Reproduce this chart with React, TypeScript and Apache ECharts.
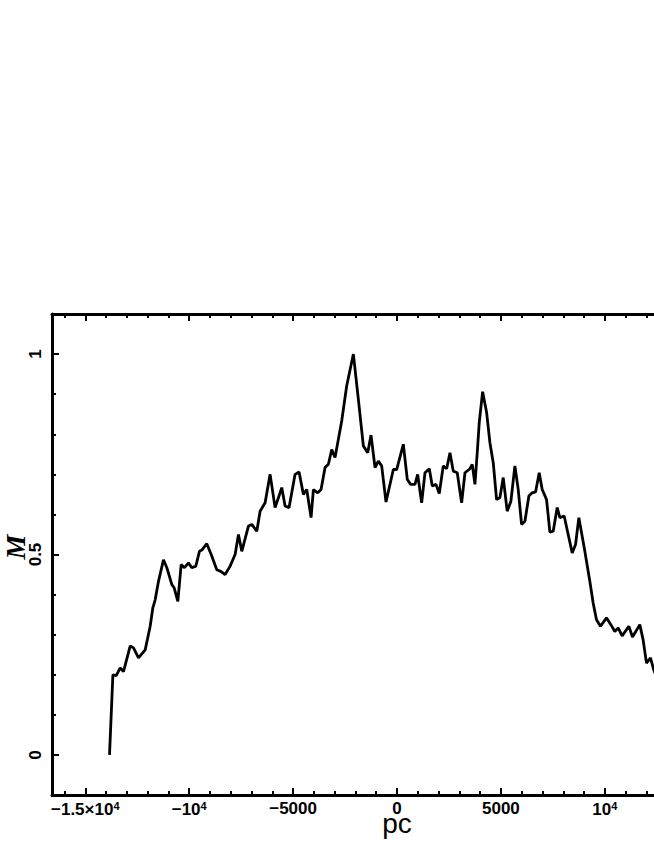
import React, { useEffect, useRef } from "react";
import * as echarts from "echarts";

// distance (pc) and M values
const pcValues = [
  -13833, -13670, -13510, -13318, -13160, -12837, -12678, -12438, -12116, -11876,
  -11748, -11635, -11476, -11236, -11073, -10833, -10722, -10545, -10385, -10226,
  -10034, -9873, -9681, -9505, -9392, -9152, -8912, -8672, -8480, -8270,
  -8030, -7789, -7629, -7468, -7148, -6987, -6746, -6587, -6346, -6106,
  -5866, -5625, -5545, -5385, -5193, -4904, -4712, -4504, -4343, -4135,
  -4023, -3813, -3654, -3462, -3301, -3141, -2981, -2660, -2420, -2099,
  -1859, -1619, -1410, -1250, -1058, -898, -737, -529, -176, -16,
  304, 497, 657, 865, 994, 1186, 1346, 1554, 1698, 1875,
  2034, 2226, 2389, 2548, 2707, 2899, 3110, 3270, 3510, 3621,
  3750, 3861, 3957, 4120, 4312, 4471, 4631, 4792, 4952, 5111,
  5303, 5481, 5673, 5833, 5994, 6154, 6346, 6506, 6668, 6843,
  6987, 7196, 7356, 7516, 7708, 7837, 8044, 8237, 8429, 8591,
  8750, 9038, 9279, 9438, 9599, 9792, 10080, 10289, 10481, 10641,
  10833, 11155, 11332, 11683, 11843, 12004, 12196, 12356, 12520,
];
const mValues = [
  0.0, 0.2, 0.198, 0.217, 0.208, 0.272, 0.267, 0.242, 0.262, 0.321,
  0.367, 0.387, 0.433, 0.487, 0.467, 0.425, 0.417, 0.383, 0.475, 0.467,
  0.479, 0.467, 0.471, 0.508, 0.511, 0.527, 0.496, 0.462, 0.458, 0.45,
  0.471, 0.5, 0.55, 0.508, 0.571, 0.575, 0.558, 0.608, 0.629, 0.7,
  0.617, 0.654, 0.667, 0.621, 0.617, 0.7, 0.706, 0.65, 0.662, 0.592,
  0.662, 0.654, 0.662, 0.717, 0.725, 0.762, 0.742, 0.833, 0.921, 1.0,
  0.887, 0.771, 0.754, 0.798, 0.717, 0.733, 0.721, 0.631, 0.712, 0.712,
  0.775, 0.687, 0.675, 0.675, 0.7, 0.629, 0.704, 0.714, 0.671, 0.675,
  0.652, 0.721, 0.714, 0.754, 0.708, 0.704, 0.629, 0.704, 0.714, 0.725,
  0.675, 0.754, 0.829, 0.906, 0.854, 0.779, 0.729, 0.637, 0.642, 0.692,
  0.608, 0.633, 0.721, 0.662, 0.575, 0.583, 0.646, 0.654, 0.656, 0.704,
  0.662, 0.637, 0.556, 0.558, 0.617, 0.592, 0.596, 0.55, 0.504, 0.525,
  0.592, 0.508, 0.433, 0.379, 0.337, 0.321, 0.342, 0.325, 0.308, 0.317,
  0.297, 0.321, 0.294, 0.325, 0.287, 0.229, 0.242, 0.212, 0.19,
];

const xMajorTicks = [-15000, -10000, -5000, 0, 5000, 10000, 15000];
const xMinorTicks = [
  -16000, -15000, -14000, -13000, -12000, -11000, -10000, -9000, -8000, -7000, -6000,
  -5000, -4000, -3000, -2000, -1000, 0, 1000, 2000, 3000, 4000, 5000, 6000, 7000,
  8000, 9000, 10000, 11000, 12000, 13000, 14000, 15000, 16000,
];
const xTickLabels = ["−1.5×10{s|4}", "−10{s|4}", "−5000", "0", "5000", "10{s|4}"];
const xLabelValues = [-15000, -10000, -5000, 0, 5000, 10000];
const yMajorTicks = [0, 0.5, 1];
const yMinorTicks = [0, 0.1, 0.2, 0.3, 0.4, 0.5, 0.6, 0.7, 0.8, 0.9, 1.0];
const yTickLabels = ["0", "0.5", "1"];
const xAxisTitle = "pc";
const yAxisTitle = "M";

const X_MIN = -16600;
const X_MAX = 16600;
const Y_MIN = -0.1;
const Y_MAX = 1.1;

export default function App() {
  const ref = useRef<HTMLDivElement>(null);

  useEffect(() => {
    if (!ref.current) return;
    const chart = echarts.init(ref.current, null, { renderer: "svg" });
    const lineStyle = { color: "#000", width: 3 };
    const tickStyle = { color: "#000", width: 2 };
    const labelFont = {
      fontFamily: "Liberation Sans",
      fontWeight: "bold" as const,
      fontSize: 17,
      color: "#000",
    };

    const xBase = (position: "top" | "bottom") => ({
      type: "value" as const,
      position,
      min: X_MIN,
      max: X_MAX,
      splitLine: { show: false },
    });
    const yBase = () => ({
      type: "value" as const,
      position: "left" as const,
      min: Y_MIN,
      max: Y_MAX,
      splitLine: { show: false },
    });

    const option: any = {
      animation: false,
      backgroundColor: "#fff",
      grid: {
        left: 52,
        right: 58,
        top: 314,
        bottom: 51,
        containLabel: false,
        outerBoundsMode: "none",
      },
      xAxis: [
        {
          ...xBase("bottom"),
          axisLine: { show: true, onZero: false, lineStyle },
          axisTick: { show: true, inside: true, length: 4, lineStyle: tickStyle, customValues: xMinorTicks },
          axisLabel: {
            show: true,
            margin: 5,
            customValues: xLabelValues,
            ...labelFont,
            formatter: (v: number) => {
              const i = xLabelValues.findIndex((t) => Math.abs(t - v) < 1e-6);
              return i >= 0 ? xTickLabels[i] : "";
            },
            rich: {
              s: { ...labelFont, fontSize: 11, verticalAlign: "top", padding: [0, 0, 8, 0] },
            },
          },
        },
        {
          ...xBase("bottom"),
          axisLine: { show: false, onZero: false },
          axisTick: { show: true, inside: true, length: 7, lineStyle: tickStyle, customValues: xMajorTicks },
          axisLabel: { show: false },
        },
        {
          ...xBase("top"),
          axisLine: { show: true, onZero: false, lineStyle },
          axisTick: { show: true, inside: true, length: 4, lineStyle: tickStyle, customValues: xMinorTicks },
          axisLabel: { show: false },
        },
        {
          ...xBase("top"),
          axisLine: { show: false, onZero: false },
          axisTick: { show: true, inside: true, length: 7, lineStyle: tickStyle, customValues: xMajorTicks },
          axisLabel: { show: false },
        },
      ],
      yAxis: [
        {
          ...yBase(),
          axisLine: { show: true, onZero: false, lineStyle },
          axisTick: { show: true, inside: true, length: 4, lineStyle: tickStyle, customValues: yMinorTicks },
          axisLabel: {
            show: true,
            rotate: 90,
            margin: 8,
            customValues: yMajorTicks,
            ...labelFont,
            formatter: (v: number) => {
              const i = yMajorTicks.findIndex((t) => Math.abs(t - v) < 1e-6);
              return i >= 0 ? yTickLabels[i] : "";
            },
          },
        },
        {
          ...yBase(),
          axisLine: { show: false, onZero: false },
          axisTick: { show: true, inside: true, length: 7, lineStyle: tickStyle, customValues: yMajorTicks },
          axisLabel: { show: false },
        },
      ],
      graphic: [
        {
          type: "text",
          x: 15,
          y: 547,
          rotation: Math.PI / 2,
          style: {
            text: yAxisTitle,
            font: 'italic bold 28px "Liberation Serif"',
            fill: "#000",
            align: "center",
            verticalAlign: "middle",
          },
        },
        {
          type: "text",
          x: 397,
          y: 823,
          style: {
            text: xAxisTitle,
            font: '28px "Liberation Sans"',
            fill: "#000",
            align: "center",
            verticalAlign: "middle",
          },
        },
      ],
      series: [
        {
          type: "line",
          xAxisIndex: 0,
          yAxisIndex: 0,
          data: pcValues.map((x, i) => [x, mValues[i]]),
          symbol: "none",
          showSymbol: false,
          lineStyle: { color: "#000", width: 2.8 },
          clip: true,
        },
      ],
    };
    chart.setOption(option);
    return () => chart.dispose();
  }, []);

  return (
    <div
      style={{
        position: "absolute",
        left: 0,
        top: 0,
        width: 654,
        height: 846,
        overflow: "hidden",
        background: "#fff",
      }}
    >
      <div ref={ref} style={{ width: 800, height: 846 }} />
    </div>
  );
}
